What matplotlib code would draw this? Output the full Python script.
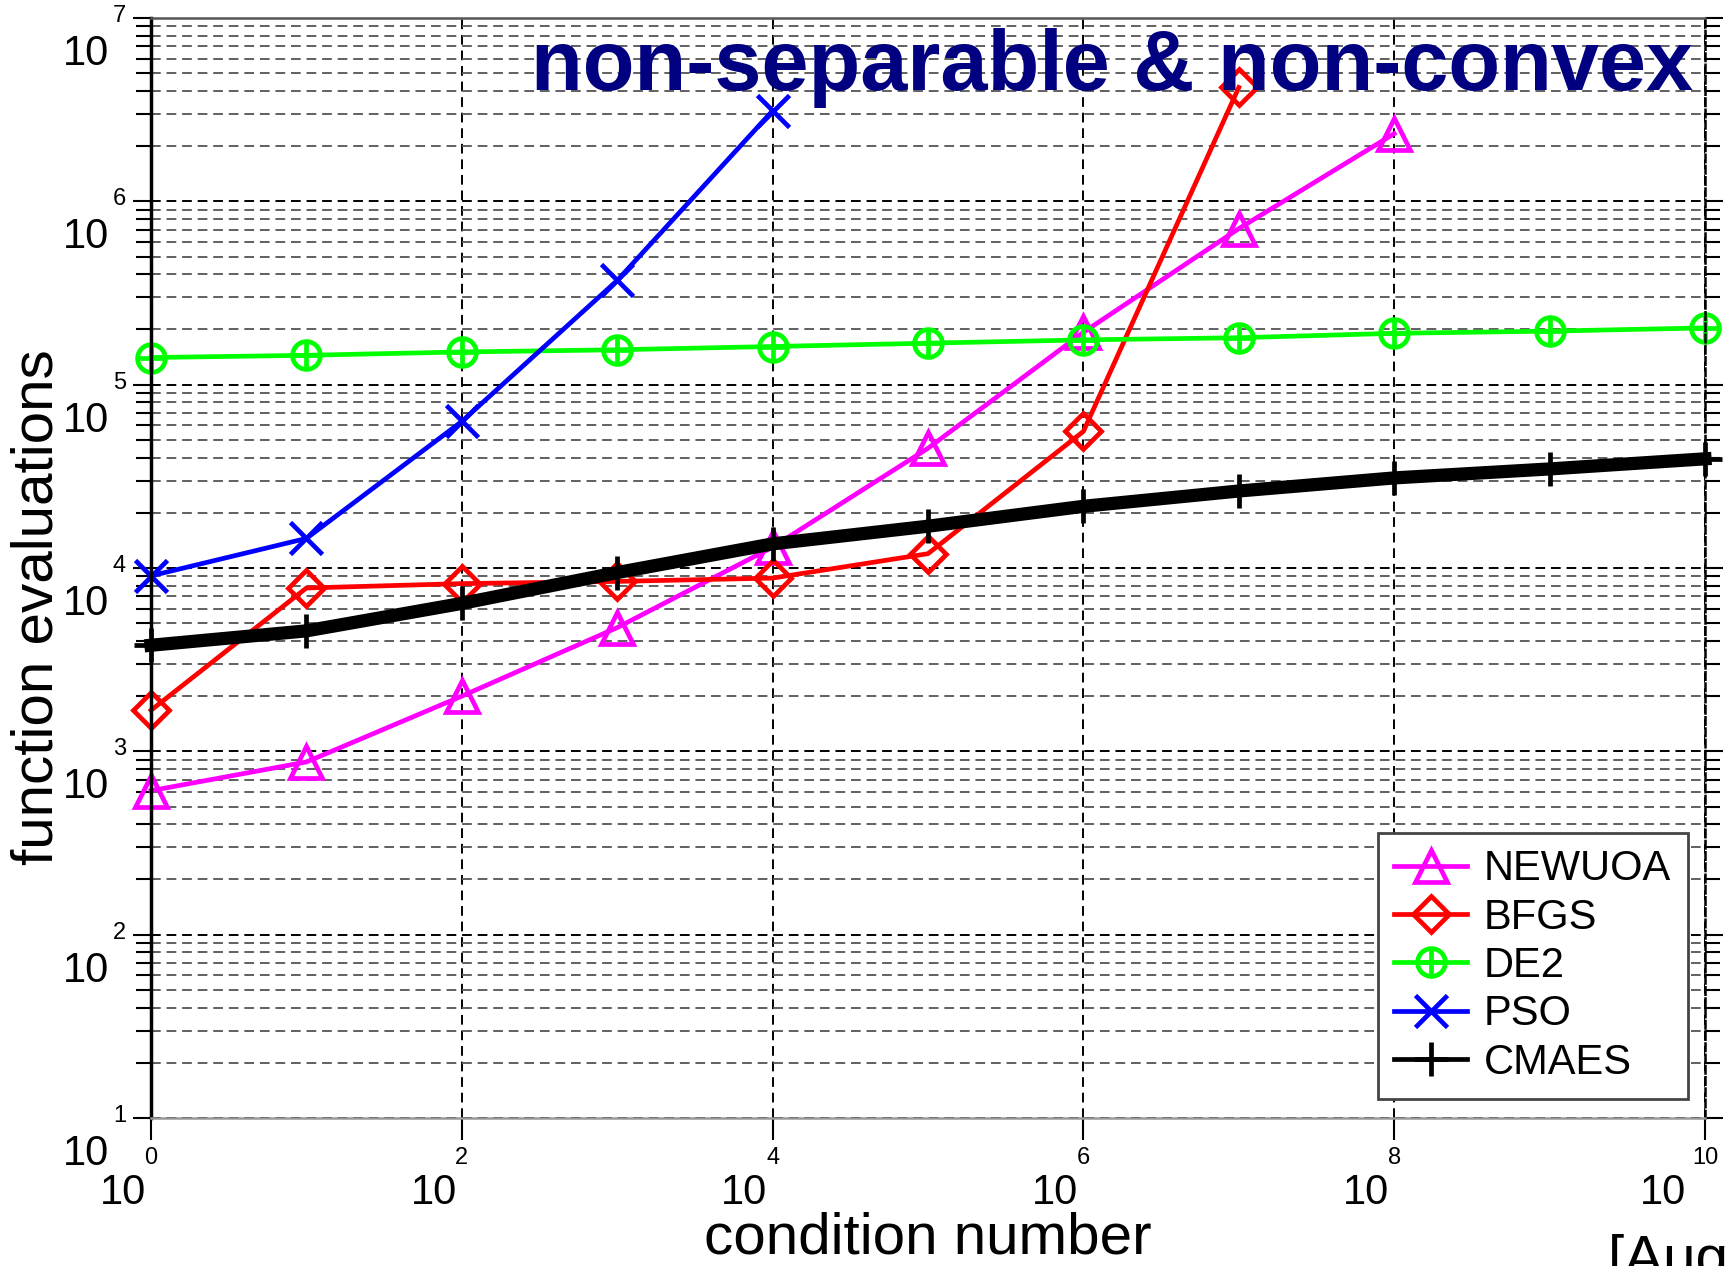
import numpy as np
import matplotlib
matplotlib.use('Agg')
import matplotlib.pyplot as plt
from matplotlib.lines import Line2D
from matplotlib.ticker import FixedLocator, LogLocator, NullFormatter, NullLocator

plt.rcParams['font.family'] = ['Liberation Sans', 'DejaVu Sans']

# =============================================================================
# Data
# =============================================================================
cond = [1e0, 1e1, 1e2, 1e3, 1e4, 1e5, 1e6, 1e7, 1e8, 1e9, 1e10]

newuoa = [610, 875, 2000, 4730, 13000, 45000, 193000, 710000, 2.34e6]
bfgs = [1675, 7780, 8220, 8450, 8810, 11970, 55600, 4.18e6]
de2 = [140600, 144600, 150800, 155000, 161500, 168400, 175500, 180300,
       190600, 195900, 204000]
pso = [9060, 14500, 63000, 370000, 3.12e6]
cmaes = [3790, 4540, 6410, 9440, 13540, 16900, 21700, 26300, 31000,
         34700, 39400]

x_tick_exp = [0, 2, 4, 6, 8, 10]
y_tick_exp = [1, 2, 3, 4, 5, 6, 7]

title = 'non-separable & non-convex'

# =============================================================================
# Figure
# =============================================================================
W, H = 1727, 1266
fig = plt.figure(figsize=(W / 100, H / 100), dpi=100)
ax_l, ax_r, ax_t, ax_b = 151, 1705, 18, 1118
ax = fig.add_axes([ax_l / W, 1 - ax_b / H, (ax_r - ax_l) / W, (ax_b - ax_t) / H])
ax.set_xscale('log')
ax.set_yscale('log')
ax.set_xlim(1e0, 1e10)
ax.set_ylim(1e1, 1e7)

# grid: black dashed at decades, grey dashed at minor y positions
ax.xaxis.set_major_locator(FixedLocator([10.0 ** e for e in x_tick_exp]))
ax.xaxis.set_minor_locator(NullLocator())
ax.yaxis.set_major_locator(FixedLocator([10.0 ** e for e in y_tick_exp]))
ax.yaxis.set_minor_locator(LogLocator(base=10, subs=np.arange(2, 10), numticks=20))
ax.xaxis.set_major_formatter(NullFormatter())
ax.yaxis.set_major_formatter(NullFormatter())
ax.yaxis.set_minor_formatter(NullFormatter())
ax.grid(which='major', color='black', linestyle=(0, (5, 3)), linewidth=1.4)
ax.grid(which='minor', axis='y', color='#606060', linestyle=(0, (5, 3)), linewidth=1.4)
ax.set_axisbelow(True)

ax.tick_params(which='major', axis='y', direction='out', length=13, width=1.5,
               right=True)
ax.tick_params(which='minor', axis='y', direction='out', length=10.5, width=1.5,
               right=True)
ax.tick_params(which='major', axis='x', direction='out', length=16, width=1.5)

ax.spines['left'].set_linewidth(2.5)
ax.spines['left'].set_color('black')
ax.spines['top'].set_color('#555555')
ax.spines['top'].set_linewidth(1.8)
ax.spines['bottom'].set_color('#999999')
ax.spines['bottom'].set_linewidth(1.8)
ax.spines['right'].set_color('black')
ax.spines['right'].set_linewidth(1.8)
ax.spines['right'].set_linestyle((0, (3, 1.5)))

# =============================================================================
# Series
# =============================================================================
lw = 3.4
mew = 3.4
h_new, = ax.plot(cond[:len(newuoa)], newuoa, color='#ff00ff', lw=lw,
                 marker='^', ms=23, mew=mew, fillstyle='none')
h_bfgs, = ax.plot(cond[:len(bfgs)], bfgs, color='#ff0000', lw=lw,
                  marker='D', ms=18, mew=mew, fillstyle='none')
h_de_o, = ax.plot(cond[:len(de2)], de2, color='#00ff00', lw=lw,
                  marker='o', ms=20, mew=mew, fillstyle='none')
h_de_p, = ax.plot(cond[:len(de2)], de2, color='#00ff00', lw=0,
                  marker='+', ms=20, mew=mew)
h_pso, = ax.plot(cond[:len(pso)], pso, color='#0000ff', lw=lw,
                 marker='x', ms=23, mew=mew)
h_cma, = ax.plot(cond[:len(cmaes)], cmaes, color='black', lw=9.5,
                 marker='+', ms=24, mew=mew)
for h in (h_new, h_bfgs, h_de_o, h_de_p, h_pso, h_cma):
    h.set_clip_on(False)

# legend shows the CMAES line at normal width
cma_key = Line2D([], [], color='black', lw=lw, marker='+', ms=24, mew=mew)
leg = ax.legend([h_new, h_bfgs, (h_de_o, h_de_p), h_pso, cma_key],
                ['NEWUOA', 'BFGS', 'DE2', 'PSO', 'CMAES'],
                loc='lower right', bbox_to_anchor=(0.989, 0.017),
                borderaxespad=0, fontsize=30, handlelength=1.75,
                labelspacing=0.2, handletextpad=0.4, borderpad=0.4,
                fancybox=False, framealpha=1)
leg.get_frame().set_edgecolor('#444444')
leg.get_frame().set_linewidth(2)

# =============================================================================
# Tick labels in the "10 with raised exponent" style
# =============================================================================
for e in y_tick_exp:
    ax.annotate(str(e), xy=(0, 10.0 ** e), xycoords=('axes fraction', 'data'),
                xytext=(-25, 2), textcoords='offset pixels',
                ha='right', va='center', fontsize=17)
    ax.annotate('10', xy=(0, 10.0 ** e), xycoords=('axes fraction', 'data'),
                xytext=(-42, -36), textcoords='offset pixels',
                ha='right', va='center', fontsize=30)

for e in x_tick_exp:
    ax.annotate(str(e), xy=(10.0 ** e, 0), xycoords=('data', 'axes fraction'),
                xytext=(0, -40), textcoords='offset pixels',
                ha='center', va='center', fontsize=17)
    shift = -5 if e < 10 else -19
    ax.annotate('10', xy=(10.0 ** e, 0), xycoords=('data', 'axes fraction'),
                xytext=(shift, -75), textcoords='offset pixels',
                ha='right', va='center', fontsize=30)

# =============================================================================
# Labels
# =============================================================================
fig.text(38 / W, 1 - 607 / H, 'function evaluations', rotation=90,
         ha='center', va='center', fontsize=42)
fig.text(928 / W, 1 - 1253 / H, 'condition number', ha='center',
         va='baseline', fontsize=42)
fig.text(1608 / W, 1 - 1276 / H, '[Auger et al 2009]', ha='left',
         va='baseline', fontsize=42)
fig.text(1693 / W, 1 - 90 / H, title, ha='right', va='baseline',
         fontsize=61, fontweight='bold', color='#000080')

fig.savefig('out.png', dpi=100)
